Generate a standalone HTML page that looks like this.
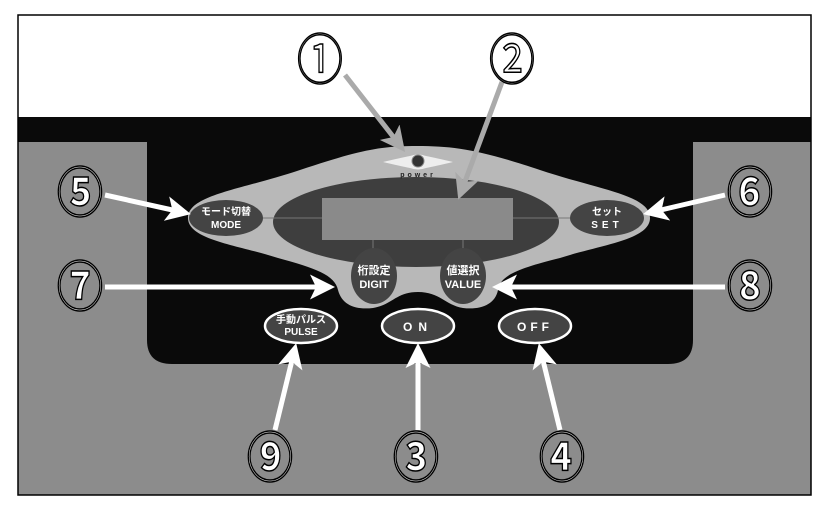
<!DOCTYPE html>
<html><head><meta charset="utf-8"><style>
html,body{margin:0;padding:0;background:#fff;}
svg{display:block;}
text{font-family:"Liberation Sans","Noto Sans CJK JP",sans-serif;}
</style></head><body>
<svg width="830" height="510" viewBox="0 0 830 510">
<rect x="0" y="0" width="830" height="510" fill="#fff"/>
<rect x="18" y="117" width="793" height="378" fill="#8c8c8c"/>
<rect x="18" y="117" width="793" height="25" fill="#0a0a0a"/>
<path d="M147 141 H693 V340 Q693 364 668 364 H172 Q147 364 147 340 Z" fill="#0a0a0a"/>
<rect x="18" y="15" width="793" height="480" fill="none" stroke="#000" stroke-width="1.5"/>
<!-- blob -->
<path d="M188 218 C188 195 240 190 300 170 C360 150 380 146 417 146 C455 146 480 150 540 170 C600 190 650 195 650 218 C650 240 600 245 560 258 C520 268 500 275 498 290 C495 305 480 310 463 308 C445 305 440 292 418 292 C396 292 392 305 373 308 C355 310 342 305 338 290 C335 275 315 268 278 258 C238 245 188 240 188 218 Z" fill="#b8b8b8"/>
<ellipse cx="416" cy="222" rx="143" ry="45" fill="#3e3e3e"/>
<rect x="322" y="198" width="191" height="42" fill="#8a8a8a"/>
<line x1="262" y1="218" x2="322" y2="218" stroke="#777" stroke-width="1"/>
<line x1="513" y1="218" x2="570" y2="218" stroke="#777" stroke-width="1"/>
<line x1="373" y1="240" x2="373" y2="256" stroke="#777" stroke-width="1"/>
<line x1="463" y1="240" x2="463" y2="256" stroke="#777" stroke-width="1"/>
<!-- power -->
<path d="M383 162 Q400 158 410 156 Q418 153 426 156 Q436 158 453 162 Q436 166 426 168 Q418 171 410 168 Q400 166 383 162 Z" fill="#eee"/>
<circle cx="418" cy="161" r="6" fill="#333" stroke="#888"/>
<text x="418" y="177" font-size="7" font-weight="bold" fill="#222" text-anchor="middle" letter-spacing="3">power</text>
<!-- buttons -->
<ellipse cx="226" cy="218" rx="37" ry="18" fill="#444"/>
<text x="226" y="215" font-size="10" font-weight="bold" fill="#fff" text-anchor="middle">モード切替</text>
<text x="226" y="228" font-size="10" font-weight="bold" fill="#fff" text-anchor="middle">MODE</text>
<ellipse cx="607" cy="218" rx="37" ry="18" fill="#444"/>
<text x="607" y="215" font-size="10" font-weight="bold" fill="#fff" text-anchor="middle">セット</text>
<text x="607" y="228" font-size="10" font-weight="bold" fill="#fff" text-anchor="middle" letter-spacing="4">SET</text>
<ellipse cx="374" cy="276" rx="23" ry="28" fill="#444"/>
<text x="374" y="274" font-size="11" font-weight="bold" fill="#fff" text-anchor="middle">桁設定</text>
<text x="374" y="288" font-size="11" font-weight="bold" fill="#fff" text-anchor="middle">DIGIT</text>
<ellipse cx="463" cy="276" rx="23" ry="28" fill="#444"/>
<text x="463" y="274" font-size="11" font-weight="bold" fill="#fff" text-anchor="middle">値選択</text>
<text x="463" y="288" font-size="11" font-weight="bold" fill="#fff" text-anchor="middle">VALUE</text>
<ellipse cx="301" cy="326" rx="36" ry="17" fill="#444" stroke="#fff" stroke-width="2.5"/>
<text x="301" y="323" font-size="10" font-weight="bold" fill="#fff" text-anchor="middle">手動パルス</text>
<text x="301" y="335" font-size="10" font-weight="bold" fill="#fff" text-anchor="middle">PULSE</text>
<ellipse cx="418" cy="326" rx="36" ry="17" fill="#444" stroke="#fff" stroke-width="2.5"/>
<text x="418" y="331" font-size="12" font-weight="bold" fill="#fff" text-anchor="middle" letter-spacing="6">ON</text>
<ellipse cx="535" cy="326" rx="36" ry="17" fill="#444" stroke="#fff" stroke-width="2.5"/>
<text x="535" y="331" font-size="12" font-weight="bold" fill="#fff" text-anchor="middle" letter-spacing="4">OFF</text>
<!-- arrows -->
<defs>
<marker id="w" markerWidth="5" markerHeight="5" refX="4" refY="2.5" orient="auto" markerUnits="strokeWidth"><path d="M0 0 L5 2.5 L0 5 L1.2 2.5 Z" fill="#fff"/></marker>
<marker id="g" markerWidth="5" markerHeight="5" refX="4" refY="2.5" orient="auto" markerUnits="strokeWidth"><path d="M0 0 L5 2.5 L0 5 L1.2 2.5 Z" fill="#aaa"/></marker>
</defs>
<g stroke-width="5">
<line x1="345" y1="75" x2="402" y2="148" stroke="#aaa" marker-end="url(#g)"/>
<line x1="502" y1="82" x2="460" y2="195" stroke="#aaa" marker-end="url(#g)"/>
<line x1="105" y1="195" x2="186" y2="213" stroke="#fff" marker-end="url(#w)"/>
<line x1="725" y1="195" x2="648" y2="213" stroke="#fff" marker-end="url(#w)"/>
<line x1="105" y1="287" x2="330" y2="287" stroke="#fff" marker-end="url(#w)"/>
<line x1="725" y1="287" x2="497" y2="287" stroke="#fff" marker-end="url(#w)"/>
<line x1="275" y1="430" x2="295" y2="348" stroke="#fff" marker-end="url(#w)"/>
<line x1="418" y1="430" x2="418" y2="348" stroke="#fff" marker-end="url(#w)"/>
<line x1="560" y1="430" x2="540" y2="348" stroke="#fff" marker-end="url(#w)"/>
</g>
<!-- numbers -->
<g font-size="54" fill="#fff" stroke="#000" stroke-width="1.5" text-anchor="middle" font-family="'Noto Sans CJK JP','DejaVu Sans',sans-serif">
<text x="320" y="79" transform="translate(320 0) scale(0.85 1) translate(-320 0)">①</text>
<text x="512" y="79" transform="translate(512 0) scale(0.85 1) translate(-512 0)">②</text>
</g>
<g font-size="54" fill="#fff" stroke="#000" stroke-width="1.5" text-anchor="middle" font-family="'Noto Sans CJK JP','DejaVu Sans',sans-serif" font-weight="bold">
<text x="80" y="212" transform="translate(80 0) scale(0.85 1) translate(-80 0)">⑤</text>
<text x="750" y="212" transform="translate(750 0) scale(0.85 1) translate(-750 0)">⑥</text>
<text x="80" y="306" transform="translate(80 0) scale(0.85 1) translate(-80 0)">⑦</text>
<text x="750" y="306" transform="translate(750 0) scale(0.85 1) translate(-750 0)">⑧</text>
<text x="270" y="477" transform="translate(270 0) scale(0.85 1) translate(-270 0)">⑨</text>
<text x="416" y="477" transform="translate(416 0) scale(0.85 1) translate(-416 0)">③</text>
<text x="562" y="477" transform="translate(562 0) scale(0.85 1) translate(-562 0)">④</text>
</g>
</svg>
</body></html>
